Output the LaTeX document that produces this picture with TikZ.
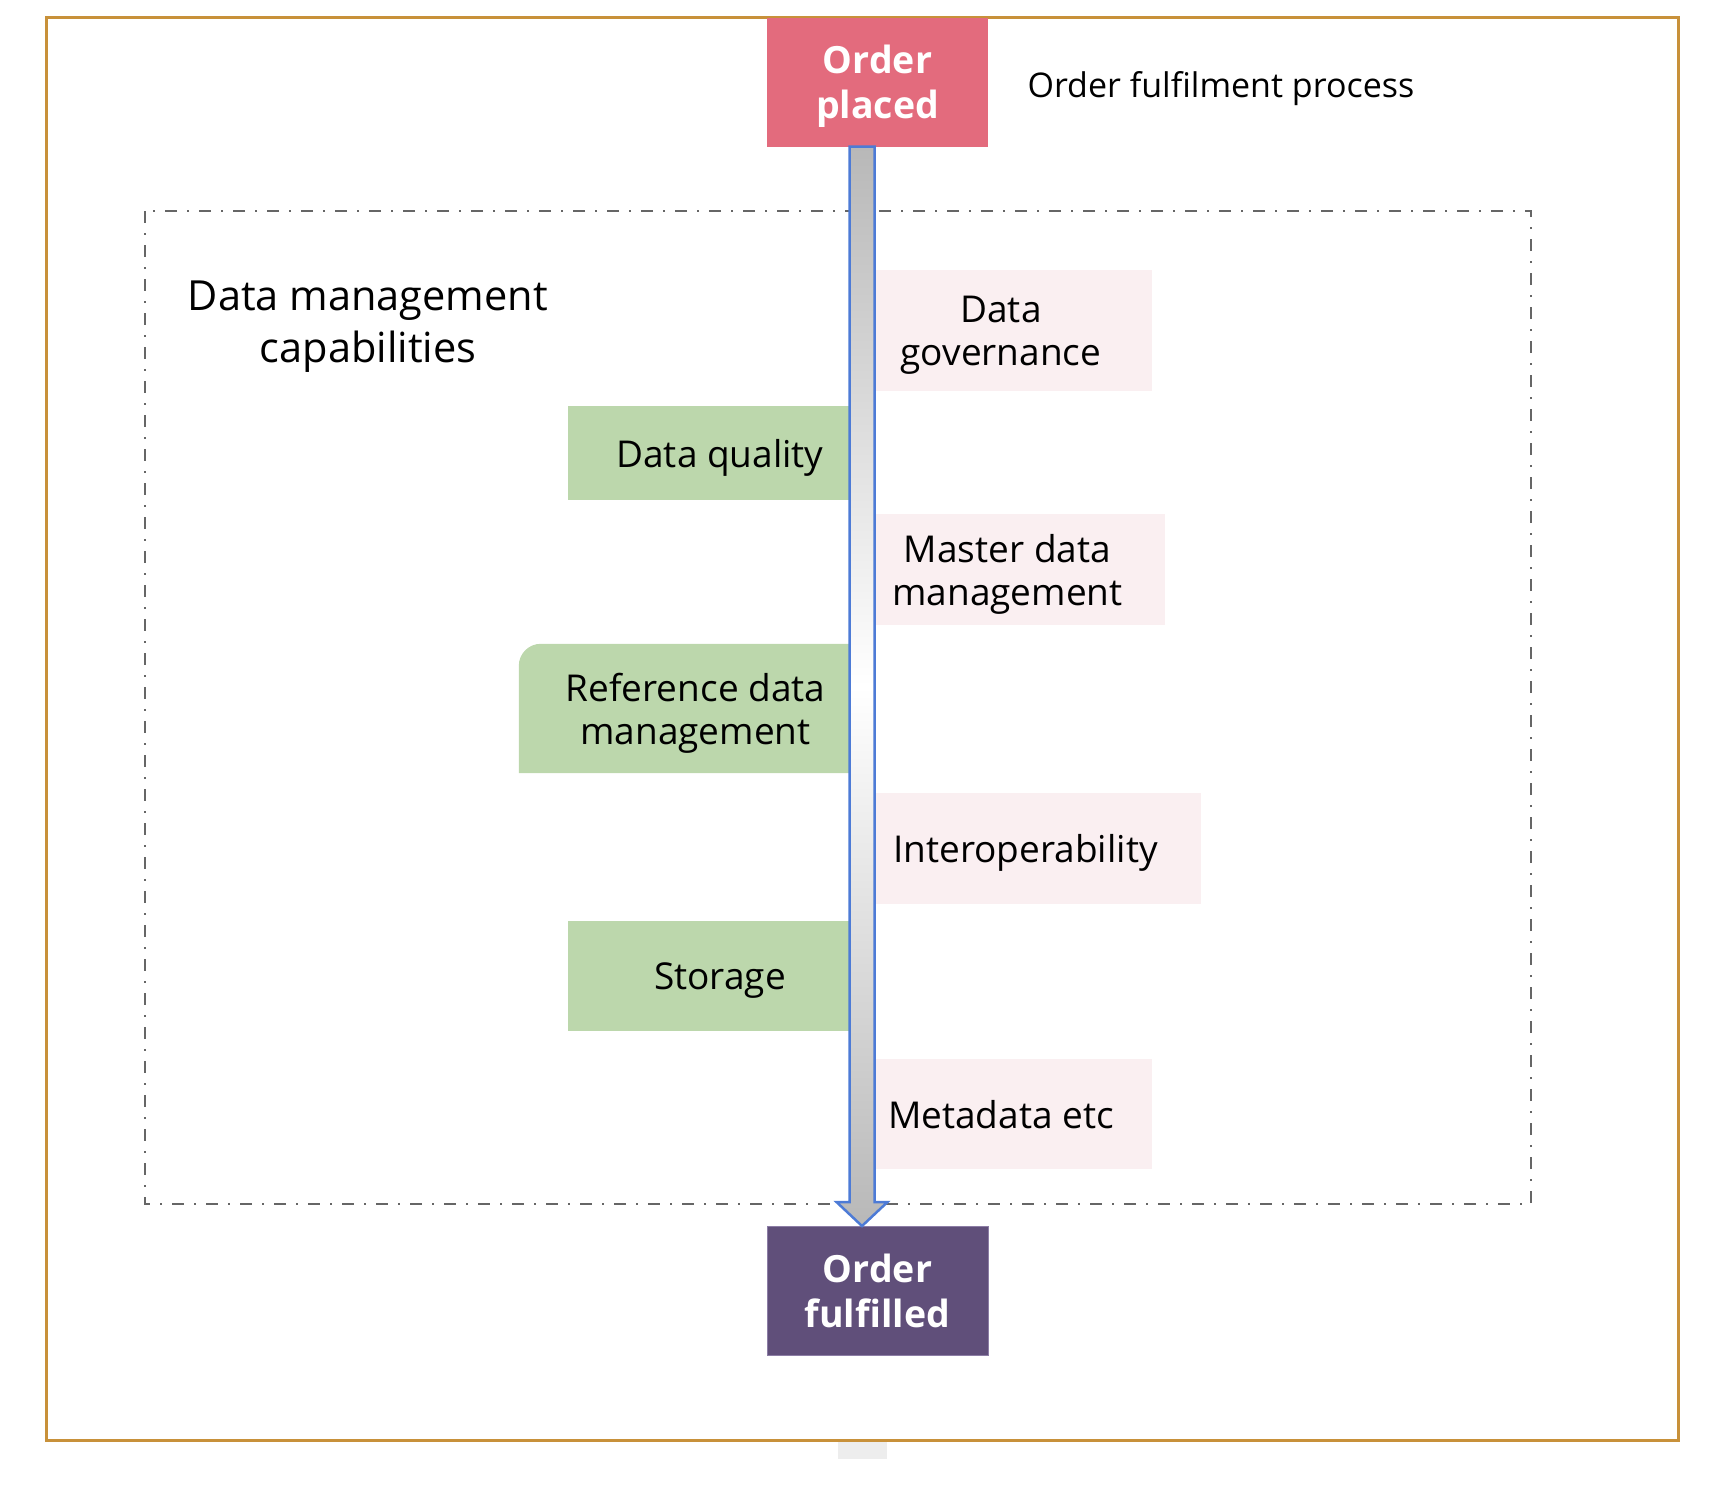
\documentclass[tikz,border=0pt]{standalone}
\usepackage{fontspec}
\setmainfont{Open Sans}
\usepackage{tikz}
\usetikzlibrary{shapes,arrows,calc,backgrounds}
\definecolor{framebrown}{RGB}{200,145,58}
\definecolor{placedred}{RGB}{227,107,125}
\definecolor{fulfilledplum}{RGB}{96,79,122}
\definecolor{plumedge}{RGB}{140,125,165}
\definecolor{capgreen}{RGB}{188,215,172}
\definecolor{cappink}{RGB}{250,239,241}
\definecolor{flowblue}{RGB}{77,123,214}
\definecolor{flowgrey}{RGB}{184,184,184}
\definecolor{groupgrey}{RGB}{102,102,102}
\tikzset{
	event/.style     = {rectangle, text=white, align=center, text depth=0pt,
		font=\fontsize{37.5}{45}\selectfont\bfseries,
		minimum width=221pt, minimum height=129pt},
	capleft/.style   = {rectangle, fill=capgreen, align=center, inner sep=0pt,
		text depth=0pt, font=\fontsize{37}{43}\selectfont},
	capright/.style  = {rectangle, fill=cappink, align=center, inner sep=0pt,
		text depth=0pt, font=\fontsize{37}{43}\selectfont},
	flow/.style      = {draw=flowblue, line width=2.5pt, line join=miter,
		top color=flowgrey, bottom color=flowgrey, middle color=white},
	group/.style     = {draw=groupgrey, line width=2.5pt,
		dash pattern=on 12pt off 10pt on 2pt off 10pt}
}
\newcommand{\capfont}{\fontsize{41.5}{52}\selectfont}

\begin{document}
\begin{tikzpicture}[x=1pt, y=-1pt]
\useasboundingbox (0,0) rectangle (1720,1500);
% frame and grouping box
\fill[black!7] (838,1440) rectangle (887,1459);
\draw[framebrown, line width=3pt] (46,17.5) rectangle (1678,1440);
\draw[group] (145,211) rectangle (1531,1204);

\draw
% events at both ends of the process
node at (877.5,82)[event, fill=placedred] (op) {Order\\placed}
node at (877.5,1291)[event, fill=fulfilledplum, draw=plumedge, line width=1pt] (of) {Order\\fulfilled}
node at (1024,84)[anchor=west, text depth=0pt, font=\fontsize{34}{40}\selectfont] (proc) {Order fulfilment process}
node at (368,322)[align=center, text depth=0pt, font=\capfont] (dmc) {Data management\\capabilities};

\draw
% capabilities along the process
node at (1001,330.5)[capright, minimum width=302pt, minimum height=121pt] (dgov) {Data\\governance}
node at (720,453)[capleft, minimum width=304pt, minimum height=94pt] (dq) {Data quality}
node at (1007.5,569.5)[capright, minimum width=315pt, minimum height=111pt] (mdm) {Master data\\management}
node at (695.5,708.5)[capleft, fill=none, minimum width=353pt, minimum height=129pt] (rdm) {Reference data\\management}
node at (1025.5,848.5)[capright, minimum width=351pt, minimum height=111pt] (iop) {Interoperability}
node at (720,976)[capleft, minimum width=304pt, minimum height=110pt] (sto) {Storage}
node at (1001,1114)[capright, minimum width=302pt, minimum height=110pt] (meta) {Metadata etc};

\begin{scope}[on background layer]
\fill[capgreen] (rdm.west) [rounded corners=22pt] -- (rdm.north west) -- (rdm.north)
	[sharp corners] -- (rdm.north east) -- (rdm.south east) -- (rdm.south west) -- cycle;
\end{scope}

% process arrow
\draw[flow] ([xshift=-28pt]op.south) -- ([xshift=-28pt,yshift=24pt]of.north)
	-- ([xshift=-41pt,yshift=24pt]of.north) -- ([xshift=-15.5pt]of.north)
	-- ([xshift=10pt,yshift=24pt]of.north) -- ([xshift=-3pt,yshift=24pt]of.north)
	-- ([xshift=-3pt]op.south) -- cycle;
\end{tikzpicture}
\end{document}
